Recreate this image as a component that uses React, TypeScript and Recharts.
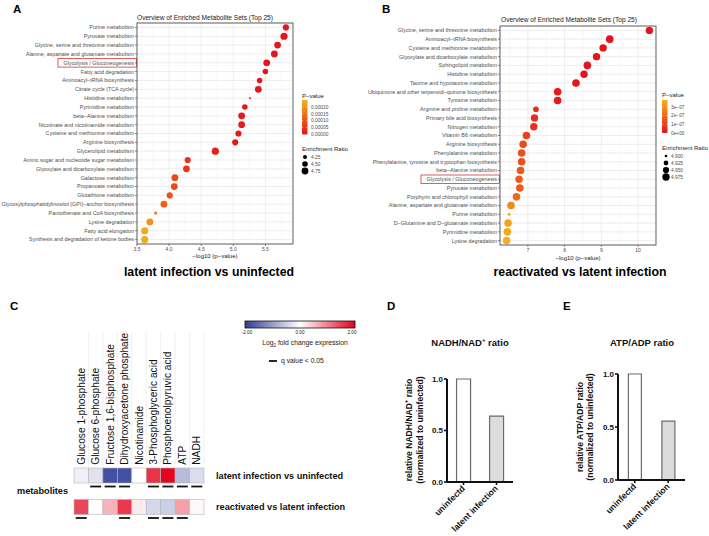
import React from "react";
import {
  ScatterChart,
  Scatter,
  XAxis,
  YAxis,
  ZAxis,
  CartesianGrid,
  ReferenceLine,
  Cell,
  BarChart,
  Bar,
} from "recharts";

const FONT = "'Liberation Sans', Arial, Helvetica, sans-serif";

// A: latent infection vs uninfected (top to bottom)
const latentSets = [
  "Purine metabolism",
  "Pyruvate metabolism",
  "Glycine, serine and threonine metabolism",
  "Alanine, aspartate and glutamate metabolism",
  "Glycolysis / Gluconeogenesis",
  "Fatty acid degradation",
  "Aminoacyl−tRNA biosynthesis",
  "Citrate cycle (TCA cycle)",
  "Histidine metabolism",
  "Pyrimidine metabolism",
  "beta−Alanine metabolism",
  "Nicotinate and nicotinamide metabolism",
  "Cysteine and methionine metabolism",
  "Arginine biosynthesis",
  "Glycerolipid metabolism",
  "Amino sugar and nucleotide sugar metabolism",
  "Glyoxylate and dicarboxylate metabolism",
  "Galactose metabolism",
  "Propanoate metabolism",
  "Glutathione metabolism",
  "Glycosylphosphatidylinositol (GPI)−anchor biosynthesis",
  "Pantothenate and CoA biosynthesis",
  "Lysine degradation",
  "Fatty acid elongation",
  "Synthesis and degradation of ketone bodies",
];
const latentLogP = [
  5.82, 5.79, 5.69, 5.64, 5.52, 5.5, 5.41, 5.39, 5.26, 5.18, 5.13, 5.13, 5.08,
  5.03, 4.72, 4.29, 4.27, 4.09, 4.08, 4.01, 3.92, 3.79, 3.7, 3.62, 3.62,
];
const latentRatio = [
  4.62, 4.85, 4.75, 4.75, 4.75, 4.5, 4.5, 4.75, 4.05, 4.5, 4.75, 4.75, 4.62,
  4.62, 4.85, 4.62, 4.75, 4.75, 4.75, 4.62, 4.75, 4.15, 4.75, 4.85, 4.85,
];

// B: reactivated vs latent infection
const reactSets = [
  "Glycine, serine and threonine metabolism",
  "Aminoacyl−tRNA biosynthesis",
  "Cysteine and methionine metabolism",
  "Glyoxylate and dicarboxylate metabolism",
  "Sphingolipid metabolism",
  "Histidine metabolism",
  "Taurine and hypotaurine metabolism",
  "Ubiquinone and other terpenoid−quinone biosynthesis",
  "Tyrosine metabolism",
  "Arginine and proline metabolism",
  "Primary bile acid biosynthesis",
  "Nitrogen metabolism",
  "Vitamin B6 metabolism",
  "Arginine biosynthesis",
  "Phenylalanine metabolism",
  "Phenylalanine, tyrosine and tryptophan biosynthesis",
  "beta−Alanine metabolism",
  "Glycolysis / Gluconeogenesis",
  "Pyruvate metabolism",
  "Porphyrin and chlorophyll metabolism",
  "Alanine, aspartate and glutamate metabolism",
  "Purine metabolism",
  "D−Glutamine and D−glutamate metabolism",
  "Pyrimidine metabolism",
  "Lysine degradation",
];
const reactLogP = [
  10.31, 9.23, 9.05, 8.87, 8.62, 8.53, 8.31, 7.81, 7.81, 7.22, 7.18, 7.16, 6.96,
  6.87, 6.83, 6.83, 6.8, 6.76, 6.78, 6.69, 6.54, 6.49, 6.46, 6.44, 6.42,
];
const reactRatio = [
  4.975, 4.98, 4.975, 4.975, 4.98, 4.975, 4.98, 4.98, 4.98, 4.94, 4.975, 4.975,
  4.98, 4.98, 4.98, 4.98, 4.98, 4.98, 4.98, 4.98, 4.98, 4.9, 4.98, 4.98, 4.98,
];

// C: log2 fold change heatmap
const metabolites = [
  "Glucose 1-phosphate",
  "Glucose 6-phosphate",
  "Fructose 1,6-bisphosphate",
  "Dihydroxyacetone phosphate",
  "Nicotinamide",
  "3-Phosphoglyceric acid",
  "Phosphoenolpyruvic acid",
  "ATP",
  "NADH",
];
const comparisons = ["latent infection vs uninfected", "reactivated vs latent infection"];
const latentFC = [-0.15, -0.3, -1.8, -1.8, 0.0, 1.6, 1.95, -0.7, -0.35];
const reactFC = [1.45, 0.0, 0.6, 1.55, 0.15, -0.4, -0.5, 0.75, 0.05];
const latentSig = [false, true, true, true, false, true, true, true, true];
const reactSig = [true, false, false, true, false, true, true, true, false];

// D / E
const groups = ["uninfectd", "latent infection"];
const nadhRatio = [1.0, 0.64];
const atpRatio = [1.0, 0.555];

function mix(a: string, b: string, t: number) {
  const c = Math.max(0, Math.min(1, t));
  const pa = [1, 3, 5].map((i) => parseInt(a.slice(i, i + 2), 16));
  const pb = [1, 3, 5].map((i) => parseInt(b.slice(i, i + 2), 16));
  return "rgb(" + pa.map((v, i) => Math.round(v + (pb[i] - v) * c)).join(",") + ")";
}

const P_LOW = "#e5141b";
const P_HIGH = "#f6b01a";
const pColor = (p: number, pMax: number) => mix(P_LOW, P_HIGH, p / pMax);
const fcColor = (v: number) =>
  v < 0 ? mix("#ffffff", "#2f3d96", -v / 2) : mix("#ffffff", "#e3001b", v / 2);

// same linear area mapping as the ZAxis, for the size legend
const radius = (v: number, dom: number[], rng: number[]) =>
  Math.sqrt((rng[0] + ((v - dom[0]) / (dom[1] - dom[0])) * (rng[1] - rng[0])) / Math.PI);

const SetTick = (props: any) => {
  const { x, y, payload } = props;
  const hl = payload.value === "Glycolysis / Gluconeogenesis";
  return (
    <g>
      {hl && (
        <rect x={x - 76} y={y - 4.3} width={78.5} height={8.6} fill="none" stroke="#d7191c" strokeWidth={0.7} />
      )}
      <text x={x} y={y} dy={1.9} textAnchor="end" fontSize={5.4} fill="#4d4d4d" fontFamily={FONT}>
        {payload.value}
      </text>
    </g>
  );
};

function EnrichmentChart(props: any) {
  const { data, width, height, top, yWidth, domain, ticks, minor, pMax, zDomain, zRange, fmt } = props;
  return (
    <ScatterChart width={width} height={height} margin={{ top, right: 0, bottom: 0, left: 0 }}>
      <CartesianGrid stroke="#e8e8e8" strokeWidth={0.8} />
      {minor.map((v: number) => (
        <ReferenceLine key={v} x={v} stroke="#f1f1f1" strokeWidth={0.6} />
      ))}
      <XAxis
        type="number"
        dataKey="logp"
        domain={domain}
        ticks={ticks}
        allowDataOverflow
        height={18}
        axisLine={false}
        tickSize={2}
        tickMargin={1}
        tickFormatter={fmt}
        tickLine={{ stroke: "#333", strokeWidth: 0.6 }}
        tick={{ fontSize: 5, fill: "#4d4d4d", fontFamily: FONT }}
      />
      <YAxis
        type="category"
        dataKey="name"
        width={yWidth}
        reversed
        interval={0}
        axisLine={false}
        tickSize={2}
        tickMargin={1}
        tickLine={{ stroke: "#333", strokeWidth: 0.6 }}
        tick={<SetTick />}
      />
      <ZAxis type="number" dataKey="ratio" domain={zDomain} range={zRange} />
      <Scatter data={data} isAnimationActive={false}>
        {data.map((d: any, i: number) => (
          <Cell key={i} fill={pColor(d.p, pMax)} />
        ))}
      </Scatter>
    </ScatterChart>
  );
}

const MetTick = (props: any) => {
  const { x, y, payload } = props;
  return (
    <g>
      <line x1={x + 7.2} x2={x + 7.2} y1={y - 127} y2={y + 6} stroke="#e6e6e6" strokeWidth={0.6} />
      <text
        transform={`translate(${x + 3.6},${y + 5}) rotate(-90)`}
        fontSize={10.2}
        fill="#111"
        fontFamily={FONT}
      >
        {payload.value}
      </text>
    </g>
  );
};

const CompTick = (props: any) => {
  const { x, y, payload } = props;
  return (
    <text x={x} y={y} dy={3.2} fontSize={9.2} fontWeight={700} fill="#111" fontFamily={FONT}>
      {payload.value}
    </text>
  );
};

const HeatCell = (props: any) => {
  const { cx, cy, payload } = props;
  return (
    <g>
      <rect x={cx - 7.2} y={cy - 7.5} width={14.4} height={15} fill={fcColor(payload.fc)} stroke="#b5b5b5" strokeWidth={0.6} />
      {payload.sig && <line x1={cx - 5.5} x2={cx + 5.5} y1={cy + 11} y2={cy + 11} stroke="#111" strokeWidth={1.8} />}
    </g>
  );
};

const GroupTick = (props: any) => {
  const { x, y, payload } = props;
  return (
    <text
      transform={`translate(${x + 2},${y + 3}) rotate(-45)`}
      textAnchor="end"
      fontSize={8.6}
      fontWeight={700}
      fill="#111"
      fontFamily={FONT}
    >
      {payload.value}
    </text>
  );
};

function RatioChart(props: any) {
  const { values, width, height, top, right, yWidth, gap } = props;
  const data = groups.map((g, i) => ({ group: g, value: values[i] }));
  return (
    <BarChart width={width} height={height} data={data} margin={{ top, right, bottom: 0, left: 0 }} barCategoryGap={gap}>
      <XAxis
        dataKey="group"
        height={54}
        interval={0}
        tickSize={3}
        tickMargin={1}
        axisLine={{ stroke: "#111", strokeWidth: 2 }}
        tickLine={{ stroke: "#111", strokeWidth: 1.6 }}
        tick={<GroupTick />}
      />
      <YAxis
        type="number"
        domain={[0, 1]}
        ticks={[0, 0.5, 1]}
        width={yWidth}
        tickFormatter={(v: number) => v.toFixed(1)}
        tickSize={3}
        tickMargin={1}
        axisLine={{ stroke: "#111", strokeWidth: 2 }}
        tickLine={{ stroke: "#111", strokeWidth: 1.6 }}
        tick={{ fontSize: 8, fontWeight: 700, fill: "#111", fontFamily: FONT }}
      />
      <Bar dataKey="value" isAnimationActive={false} stroke="#6b6b6b" strokeWidth={1.2}>
        {data.map((d, i) => (
          <Cell key={i} fill={i === 0 ? "#ffffff" : "#dcdcdc"} />
        ))}
      </Bar>
    </BarChart>
  );
}

const A_Z = [4.05, 4.85];
const A_ZR = [3.1, 41];
const B_Z = [4.9, 4.98];
const B_ZR = [5.3, 45.5];
const A_PMAX = 0.00025;
const B_PMAX = 3.8e-7;

export default function App() {
  const latentData = latentSets.map((name, i) => ({
    name,
    logp: latentLogP[i],
    ratio: latentRatio[i],
    p: Math.pow(10, -latentLogP[i]),
  }));
  const reactData = reactSets.map((name, i) => ({
    name,
    logp: reactLogP[i],
    ratio: reactRatio[i],
    p: Math.pow(10, -reactLogP[i]),
  }));
  const heatData = [
    ...metabolites.map((m, i) => ({ metabolite: m, comparison: comparisons[0], fc: latentFC[i], sig: latentSig[i] })),
    ...metabolites.map((m, i) => ({ metabolite: m, comparison: comparisons[1], fc: reactFC[i], sig: reactSig[i] })),
  ];

  const txt = { fontFamily: FONT, fill: "#1a1a1a" } as any;
  const aLegend = [0.0002, 0.00015, 0.0001, 0.00005, 0];
  const bLegend = [3e-7, 2e-7, 1e-7, 0];

  return (
    <div style={{ position: "absolute", left: 0, top: 0, width: 709, height: 536, background: "#fff", overflow: "hidden" }}>
      <div style={{ position: "absolute", left: 0, top: 0 }}>
        <EnrichmentChart
          data={latentData}
          width={293}
          height={262}
          top={23}
          yWidth={137}
          domain={[3.5, 5.93]}
          ticks={[3.5, 4, 4.5, 5, 5.5]}
          minor={[3.75, 4.25, 4.75, 5.25, 5.75]}
          pMax={A_PMAX}
          zDomain={A_Z}
          zRange={A_ZR}
          fmt={(v: number) => v.toFixed(1)}
        />
      </div>
      <div style={{ position: "absolute", left: 355, top: 0 }}>
        <EnrichmentChart
          data={reactData}
          width={301}
          height={263}
          top={26}
          yWidth={145}
          domain={[6.24, 10.49]}
          ticks={[7, 8, 9, 10]}
          minor={[6.5, 7.5, 8.5, 9.5]}
          pMax={B_PMAX}
          zDomain={B_Z}
          zRange={B_ZR}
          fmt={(v: number) => String(v)}
        />
      </div>
      <div style={{ position: "absolute", left: 0, top: 330 }}>
        <ScatterChart width={360} height={200} margin={{ top: 0, right: 0, bottom: 7.25, left: 74 }}>
          <XAxis
            type="category"
            dataKey="metabolite"
            orientation="top"
            height={129.75}
            interval={0}
            allowDuplicatedCategory={false}
            axisLine={false}
            tickLine={false}
            tickSize={0}
            tickMargin={0}
            tick={<MetTick />}
          />
          <YAxis
            type="category"
            dataKey="comparison"
            orientation="right"
            width={156}
            reversed
            allowDuplicatedCategory={false}
            axisLine={false}
            tickLine={false}
            tickSize={0}
            tickMargin={12}
            tick={<CompTick />}
          />
          <Scatter data={heatData} isAnimationActive={false} shape={<HeatCell />} />
        </ScatterChart>
      </div>
      <div style={{ position: "absolute", left: 395, top: 360 }}>
        <RatioChart values={nadhRatio} width={125} height={176} top={19} right={7} yWidth={52} gap="29%" />
      </div>
      <div style={{ position: "absolute", left: 560, top: 360 }}>
        <RatioChart values={atpRatio} width={125} height={174} top={14} right={0} yWidth={58} gap="31%" />
      </div>

      <svg width={709} height={536} style={{ position: "absolute", left: 0, top: 0, pointerEvents: "none" }}>
        <defs>
          <linearGradient id="pgrad" x1="0" y1="1" x2="0" y2="0">
            <stop offset="0" stopColor={P_LOW} />
            <stop offset="1" stopColor={P_HIGH} />
          </linearGradient>
          <linearGradient id="fcgrad" x1="0" y1="0" x2="1" y2="0">
            <stop offset="0" stopColor="#2f3d96" />
            <stop offset="0.5" stopColor="#ffffff" />
            <stop offset="1" stopColor="#e3001b" />
          </linearGradient>
        </defs>

        {/* panel letters */}
        {[
          ["A", 13, 13],
          ["B", 382, 13],
          ["C", 10, 310],
          ["D", 387, 310],
          ["E", 563, 310],
        ].map(([l, x, y]) => (
          <text key={l as string} x={x as number} y={y as number} fontSize={11.5} fontWeight={700} {...txt} fill="#000">
            {l}
          </text>
        ))}

        {/* A */}
        <rect x={137} y={23} width={156} height={221} fill="none" stroke="#555" strokeWidth={0.9} />
        <text x={137} y={19.5} fontSize={6.6} {...txt}>Overview of Enriched Metabolite Sets (Top 25)</text>
        <text x={215} y={258} fontSize={6} textAnchor="middle" {...txt}>−log10 (p−value)</text>
        <text x={209} y={275.5} fontSize={12.3} fontWeight={700} textAnchor="middle" {...txt} fill="#000">
          latent infection vs uninfected
        </text>
        <text x={302} y={97.5} fontSize={6} {...txt}>P−value</text>
        <rect x={302} y={100} width={5.5} height={34.5} fill="url(#pgrad)" />
        {aLegend.map((v) => {
          const y = 134.5 - (v / A_PMAX) * 34.5;
          return (
            <g key={v}>
              <line x1={302} x2={303.2} y1={y} y2={y} stroke="#fff" strokeWidth={0.5} />
              <line x1={306.3} x2={307.5} y1={y} y2={y} stroke="#fff" strokeWidth={0.5} />
              <text x={311} y={y + 1.7} fontSize={4.8} fill="#4d4d4d" fontFamily={FONT}>
                {v.toFixed(5)}
              </text>
            </g>
          );
        })}
        <text x={302} y={150.5} fontSize={6} {...txt}>Enrichment Ratio</text>
        {[4.25, 4.5, 4.75].map((v, i) => (
          <g key={v}>
            <circle cx={305} cy={157 + i * 7} r={radius(v, A_Z, A_ZR)} fill="#000" />
            <text x={311} y={158.7 + i * 7} fontSize={4.8} fill="#4d4d4d" fontFamily={FONT}>
              {v.toFixed(2)}
            </text>
          </g>
        ))}

        {/* B */}
        <rect x={500} y={26} width={156} height={219} fill="none" stroke="#555" strokeWidth={0.9} />
        <text x={501} y={21.5} fontSize={6.6} {...txt}>Overview of Enriched Metabolite Sets (Top 25)</text>
        <text x={578} y={260} fontSize={6} textAnchor="middle" {...txt}>−log10 (p−value)</text>
        <text x={580} y={276} fontSize={12.3} fontWeight={700} textAnchor="middle" {...txt} fill="#000">
          reactivated vs latent infection
        </text>
        <text x={662} y={97} fontSize={6} {...txt}>P−value</text>
        <rect x={662} y={100} width={5.5} height={33} fill="url(#pgrad)" />
        {bLegend.map((v) => {
          const y = 133 - (v / B_PMAX) * 33;
          return (
            <g key={v}>
              <line x1={662} x2={663.2} y1={y} y2={y} stroke="#fff" strokeWidth={0.5} />
              <line x1={666.3} x2={667.5} y1={y} y2={y} stroke="#fff" strokeWidth={0.5} />
              <text x={671} y={y + 1.7} fontSize={4.8} fill="#4d4d4d" fontFamily={FONT}>
                {v === 0 ? "0e+00" : `${Math.round(v * 1e7)}e−07`}
              </text>
            </g>
          );
        })}
        <text x={662} y={149.5} fontSize={6} {...txt}>Enrichment Ratio</text>
        {[4.9, 4.925, 4.95, 4.975].map((v, i) => (
          <g key={v}>
            <circle cx={666} cy={156 + i * 7} r={radius(v, B_Z, B_ZR)} fill="#000" />
            <text x={671} y={157.7 + i * 7} fontSize={4.8} fill="#4d4d4d" fontFamily={FONT}>
              {v.toFixed(3)}
            </text>
          </g>
        ))}

        {/* C */}
        <rect x={245} y={321} width={110} height={7} fill="url(#fcgrad)" stroke="#111" strokeWidth={0.8} />
        {[
          ["-2.00", 247],
          ["0.00", 300],
          ["2.00", 352],
        ].map(([t, x]) => (
          <text key={t as string} x={x as number} y={334} fontSize={4.6} textAnchor="middle" {...txt}>
            {t}
          </text>
        ))}
        <text x={305} y={345} fontSize={6.8} textAnchor="middle" {...txt}>
          Log<tspan fontSize={4.5} dy={1.5}>2</tspan>
          <tspan dy={-1.5}> fold change expression</tspan>
        </text>
        <line x1={269} x2={277} y1={361} y2={361} stroke="#111" strokeWidth={1.8} />
        <text x={281} y={363.2} fontSize={6.8} {...txt}>q value &lt; 0.05</text>
        <text x={17} y={494} fontSize={9.2} fontWeight={700} {...txt} fill="#111">metabolites</text>

        {/* D / E */}
        <text x={470} y={345.5} fontSize={9.5} fontWeight={700} textAnchor="middle" {...txt} fill="#111">
          NADH/NAD<tspan fontSize={6} dy={-3.5}>+</tspan>
          <tspan dy={3.5}> ratio</tspan>
        </text>
        <text x={642} y={345.5} fontSize={9.5} fontWeight={700} textAnchor="middle" {...txt} fill="#111">
          ATP/ADP ratio
        </text>
        <text transform="translate(409,430) rotate(-90)" fontSize={8.6} fontWeight={700} textAnchor="middle" dominantBaseline="central" {...txt} fill="#111">
          relative NADH/NAD<tspan fontSize={5.5} dy={-3}>+</tspan>
          <tspan dy={3}> ratio</tspan>
        </text>
        <text transform="translate(420,430) rotate(-90)" fontSize={8.6} fontWeight={700} textAnchor="middle" dominantBaseline="central" {...txt} fill="#111">
          (normalized to uninfected)
        </text>
        <text transform="translate(580,427) rotate(-90)" fontSize={8.6} fontWeight={700} textAnchor="middle" dominantBaseline="central" {...txt} fill="#111">
          relative ATP/ADP ratio
        </text>
        <text transform="translate(590,427) rotate(-90)" fontSize={8.6} fontWeight={700} textAnchor="middle" dominantBaseline="central" {...txt} fill="#111">
          (normalized to uninfected)
        </text>
      </svg>
    </div>
  );
}
